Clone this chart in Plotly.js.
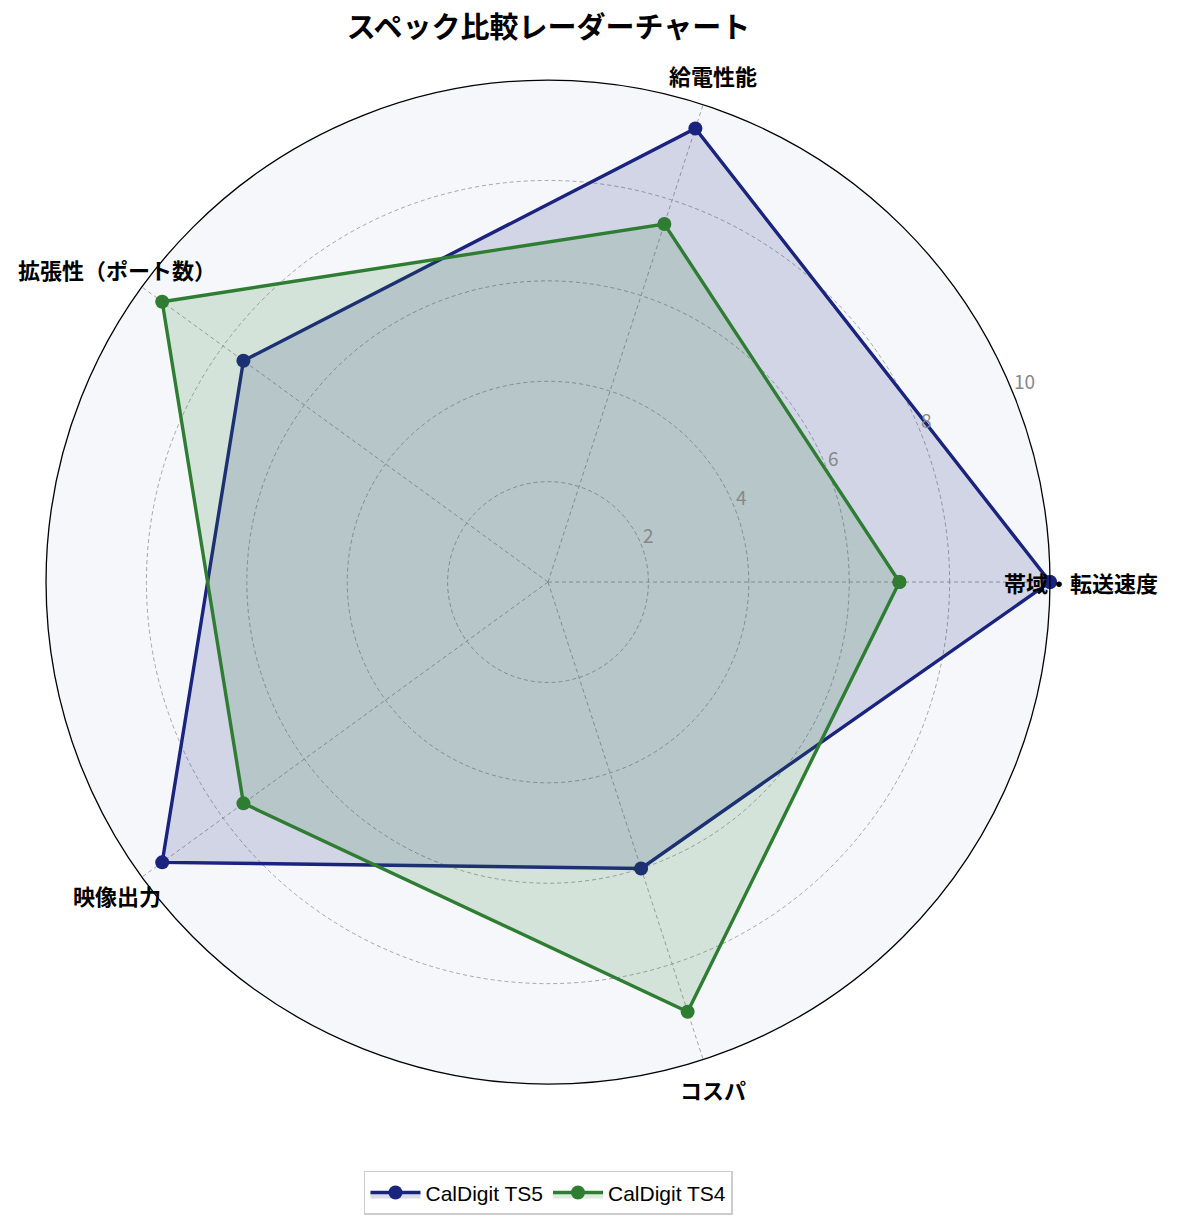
<!DOCTYPE html>
<html>
<head>
<meta charset="utf-8">
<script src="https://cdn.plot.ly/plotly-3.0.1.min.js"></script>
<style>
  body { margin: 0; background: #fff; }
  #chart { width: 1177px; height: 1226px; }
</style>
</head>
<body>
<div id="chart"></div>
<script>
const categories = ['帯域・転送速度', '給電性能', '拡張性（ポート数）', '映像出力', 'コスパ']
const ts5Values = [10, 9.5, 7.5, 9.5, 6]
const ts4Values = [7, 7.5, 9.5, 7.5, 9]
const radialTicks = [2, 4, 6, 8, 10]

const FONT = '"Noto Sans CJK JP", "Noto Sans", sans-serif'
const W = 1177, H = 1226
const domX = [0.0391, 0.8921]
const domY = [0.1158, 0.9347]
const RMAX = 10
const LABEL_ANGLE = 22.5

// close the polygon by repeating the first point
function closed(arr) {
    return arr.concat([arr[0]])
}

function series(name, values, color, fill) {
    return {
        type: 'scatterpolar',
        name: name,
        r: closed(values),
        theta: closed(categories),
        mode: 'lines+markers',
        line: { color: color, width: 3.4 },
        marker: { color: color, size: 14 },
        fill: 'toself',
        fillcolor: fill,
        hoverinfo: 'r+theta+name'
    }
}

let data = [
    series('CalDigit TS5', ts5Values, '#1a237e', 'rgba(26,35,126,0.16)'),
    series('CalDigit TS4', ts4Values, '#2e7d32', 'rgba(46,125,50,0.16)')
]

// polar centre / radius in pixels, from the domain
let cx = (domX[0] + domX[1]) / 2 * W
let cy = (domY[0] + domY[1]) / 2 * H
let rimR = (domX[1] - domX[0]) * W / 2

// category labels centred just outside the rim, matplotlib style
let labelAnn = categories.map((c, i) => {
    let a = i * 2 * Math.PI / categories.length
    return {
        text: '<b>' + c + '</b>',
        xref: 'paper', yref: 'paper',
        x: (cx + rimR * 1.062 * Math.cos(a)) / W,
        y: (cy + rimR * 1.062 * Math.sin(a)) / H,
        xanchor: 'center', yanchor: 'middle',
        showarrow: false,
        font: { family: FONT, size: 22, color: '#000' }
    }
})

// radial tick labels, horizontal, sitting on the 22.5 deg line
let tickAnn = radialTicks.map(v => {
    let a = LABEL_ANGLE * Math.PI / 180
    let rr = rimR * v / RMAX
    return {
        text: String(v),
        xref: 'paper', yref: 'paper',
        x: (cx + rr * Math.cos(a)) / W,
        y: (cy + rr * Math.sin(a)) / H,
        xanchor: 'left', yanchor: 'middle',
        xshift: 0, yshift: 9,
        showarrow: false,
        font: { family: FONT, size: 19, color: '#888888' }
    }
})

let layout = {
    width: W,
    height: H,
    margin: { l: 0, r: 0, t: 0, b: 0 },
    paper_bgcolor: '#ffffff',
    font: { family: FONT, color: '#000' },
    title: {
        text: '<b>スペック比較レーダーチャート</b>',
        font: { family: FONT, size: 29, color: '#000' },
        x: 0.466, xanchor: 'center',
        y: 0.977, yanchor: 'middle'
    },
    polar: {
        domain: { x: domX, y: domY },
        bgcolor: '#f5f7fb',
        radialaxis: {
            range: [0, RMAX],
            tickvals: radialTicks,
            angle: LABEL_ANGLE,
            showline: false,
            showticklabels: false,
            ticks: '',
            gridcolor: '#a6a6a6',
            griddash: '4px,3px',
            gridwidth: 0.9
        },
        angularaxis: {
            direction: 'counterclockwise',
            rotation: 0,
            showline: true,
            linecolor: '#000000',
            linewidth: 1.3,
            ticks: '',
            showticklabels: false,
            gridcolor: '#a6a6a6',
            griddash: '4px,3px',
            gridwidth: 0.9
        }
    },
    annotations: labelAnn.concat(tickAnn),
    showlegend: true,
    legend: {
        orientation: 'h',
        x: 0.466, xanchor: 'center',
        y: 0.027, yanchor: 'middle',
        bordercolor: '#cccccc',
        borderwidth: 1.5,
        bgcolor: '#ffffff',
        itemwidth: 50,
        font: { family: '"Liberation Sans", Arial, sans-serif', size: 21, color: '#000' }
    }
}

Plotly.newPlot('chart', data, layout, { displayModeBar: false })
</script>
</body>
</html>
